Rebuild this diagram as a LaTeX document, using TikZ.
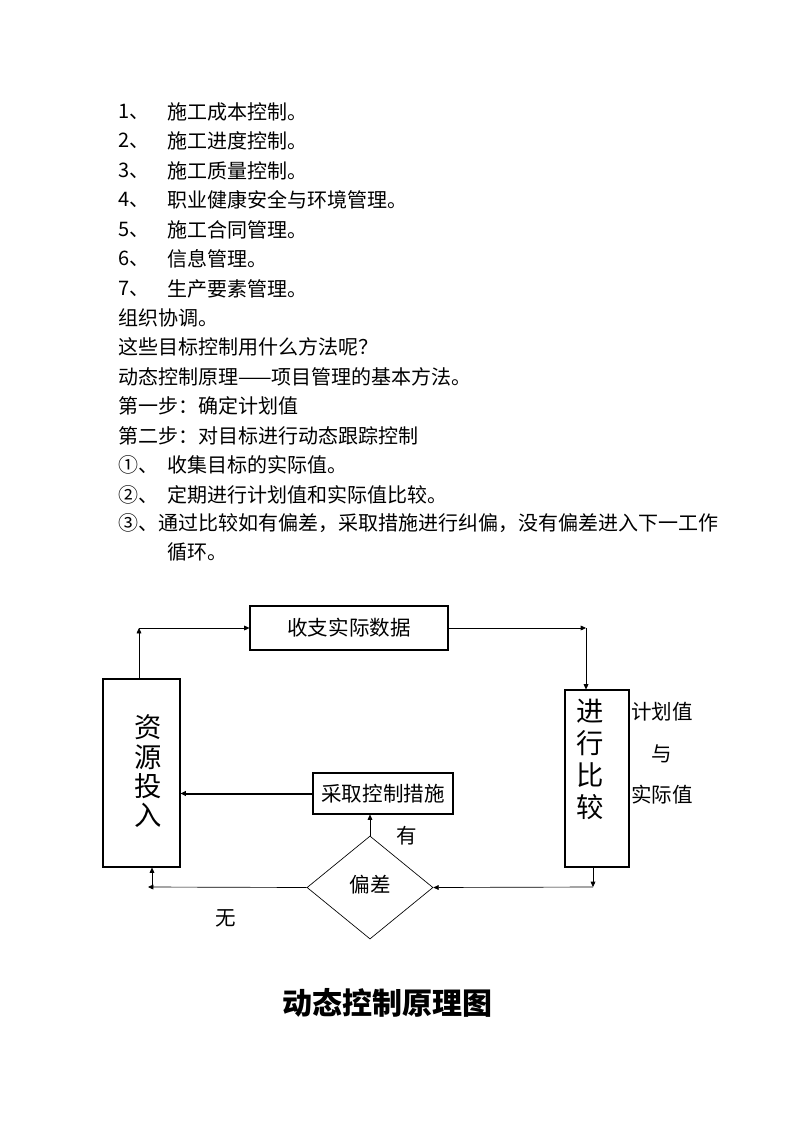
\documentclass[tikz,border=0pt]{standalone}
\usepackage{fontspec}
\setmainfont{Liberation Serif}
\newfontfamily\cjk{Noto Sans CJK SC}
\usetikzlibrary{arrows.meta,shapes.geometric}
\def\zh{\cjk\fontsize{15}{18}\selectfont}
\def\zhbox{\cjk\fontsize{15.4}{18}\selectfont}
\def\zhbig{\cjk\fontsize{20.5}{22}\selectfont}
\tikzset{
	txt/.style={anchor=west, inner sep=0pt, font=\zh},
	blk/.style={draw, line width=0.8pt, inner sep=0pt},
	link/.style={line width=0.5pt, -{Triangle[length=4pt,width=3.6pt]}},
}

\begin{document}
\begin{tikzpicture}[x=0.75pt, y=-0.75pt]
			%%%%% START %%%%%
			
			\useasboundingbox[fill=white] (0, 0) rectangle (794, 1123);
			
			\node[txt] (n1) at (118, 112) {1{\zh、}};
			\node[txt] (t1) at (167, 112) {施工成本控制。};
			\node[txt] (n2) at (118, 141) {2{\zh、}};
			\node[txt] (t2) at (167, 141) {施工进度控制。};
			\node[txt] (n3) at (118, 171) {3{\zh、}};
			\node[txt] (t3) at (167, 171) {施工质量控制。};
			\node[txt] (n4) at (118, 200) {4{\zh、}};
			\node[txt] (t4) at (167, 200) {职业健康安全与环境管理。};
			\node[txt] (n5) at (118, 230) {5{\zh、}};
			\node[txt] (t5) at (167, 230) {施工合同管理。};
			\node[txt] (n6) at (118, 259) {6{\zh、}};
			\node[txt] (t6) at (167, 259) {信息管理。};
			\node[txt] (n7) at (118, 289) {7{\zh、}};
			\node[txt] (t7) at (167, 289) {生产要素管理。};
			
			\node[txt] (zz) at (118, 318) {组织协调。};
			\node[txt] (wen) at (118, 347) {这些目标控制用什么方法呢？};
			\node[txt] (yl) at (118, 377) {动态控制原理——项目管理的基本方法。};
			\node[txt] (bu1) at (118, 406) {第一步：确定计划值};
			\node[txt] (bu2) at (118, 436) {第二步：对目标进行动态跟踪控制};
			\node[txt] (q1) at (118, 465) {①、};
			\node[txt] (s1) at (167, 465) {收集目标的实际值。};
			\node[txt] (q2) at (118, 495) {②、};
			\node[txt] (s2) at (167, 495) {定期进行计划值和实际值比较。};
			\node[txt] (s3) at (118, 523) {③、通过比较如有偏差，采取措施进行纠偏，没有偏差进入下一工作};
			\node[txt] (s3b) at (167, 552) {循环。};
			
			% diagram
			\node[blk, minimum width=148.5pt, minimum height=33pt, font=\zhbox] (sz) at (349, 628) {收支实际数据};
			\node[blk, minimum width=57.75pt, minimum height=141pt] (zy) at (141.5, 773) {};
			\node[inner sep=0pt, align=center, font=\zhbig] (zyt) at (148, 771.5) {资\\源\\投\\入};
			\node[blk, minimum width=48pt, minimum height=132.75pt] (jx) at (597, 778.5) {};
			\node[inner sep=0pt, align=center, font=\cjk\fontsize{20.5}{24}\selectfont] (jxt) at (590, 759) {进\\行\\比\\较};
			\node[blk, minimum width=105pt, minimum height=30.75pt, font=\zhbox] (cq) at (383, 793.5) {采取控制措施};
			\node[draw, line width=0.5pt, diamond, minimum width=94.5pt, minimum height=77.25pt, inner sep=0pt, font=\zhbox] (pc) at (370, 887.5) {\raisebox{6pt}{偏差}};
			
			\node[inner sep=0pt, font=\zhbox] (jh) at (662, 712) {计划值};
			\node[inner sep=0pt, font=\zhbox] (yu) at (662, 754) {与};
			\node[inner sep=0pt, font=\zhbox] (sj) at (662, 795) {实际值};
			\node[inner sep=0pt, font=\zhbox] (you) at (407, 836) {有};
			\node[inner sep=0pt, font=\zhbox] (wu) at (226, 918) {无};
			
			\coordinate (c1) at (139, 628);
			\coordinate (c2) at (586, 628);
			\coordinate (c3) at (593, 887);
			\coordinate (c4) at (148, 887);
			\coordinate (c5) at (152, 887);
			
			\draw[link] (c1 |- zy.north) -- (c1);
			\draw[link] (c1) -- (sz.west);
			\draw[link] (sz.east) -- (c2);
			\draw[link] (c2) -- (c2 |- jx.north);
			\draw[link] (c3 |- jx.south) -- (c3);
			\draw[link] (c3) -- (pc.east);
			\draw[link] (pc.west) -- (c4);
			\draw[link] (c5) -- (c5 |- zy.south);
			\draw[link] (pc.north) -- (pc.north |- cq.south);
			\draw[link, line width=1.5pt] (cq.west) -- (cq.west -| zy.east);
			
			\node[inner sep=0pt, font=\cjk\bfseries\fontsize{22.5}{26}\selectfont] (title) at (387, 1003) {动态控制原理图};
			
			%%%%% END %%%%%
		\end{tikzpicture}
\end{document}
